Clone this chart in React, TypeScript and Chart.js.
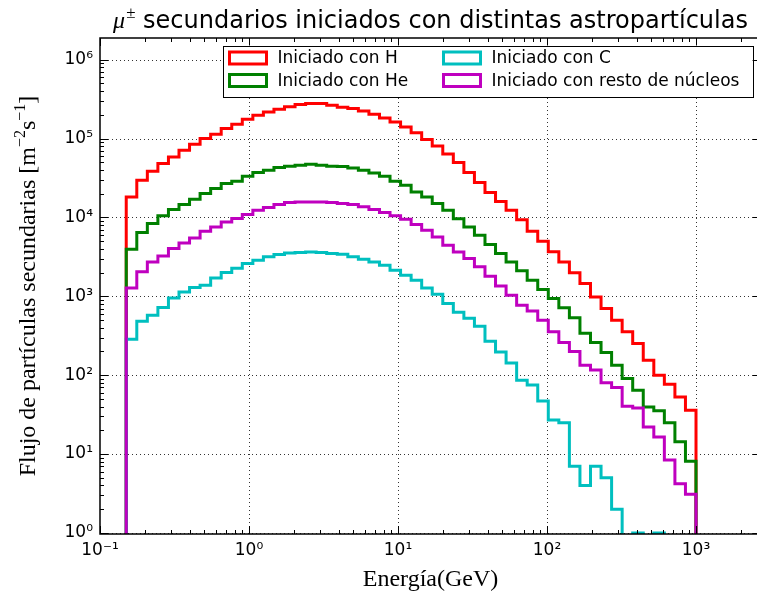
import React, { useEffect, useRef } from 'react';
import { Chart, registerables } from 'chart.js';

Chart.register(...registerables);

// ---------------- data ----------------
const EDGE_FIRST = 0.15; // GeV, first bin edge
const EDGE_LAST = 1000; // GeV, last bin edge
const N_BINS = 54; // log-spaced histogram bins

const FLUX_H = [
  1.82e4, 2.96e4, 3.85e4, 4.82e4, 5.85e4, 7.11e4, 8.47e4, 1.0e5, 1.13e5, 1.34e5,
  1.52e5, 1.76e5, 1.97e5, 2.17e5, 2.35e5, 2.52e5, 2.70e5, 2.78e5, 2.78e5, 2.64e5,
  2.49e5, 2.40e5, 2.24e5, 2.03e5, 1.82e5, 1.62e5, 1.40e5, 1.18e5, 9.71e4, 8.06e4,
  6.36e4, 4.98e4, 3.71e4, 2.77e4, 2.07e4, 1.59e4, 1.23e4, 9.35e3, 6.68e3, 4.99e3,
  3.67e3, 2.73e3, 1.99e3, 1.45e3, 983, 700, 498, 354, 252, 155,
  100, 77, 53, 36,
];
const FLUX_HE = [
  3.95e3, 6.44e3, 8.37e3, 1.05e4, 1.26e4, 1.46e4, 1.70e4, 2.01e4, 2.32e4, 2.69e4,
  2.88e4, 3.33e4, 3.71e4, 3.96e4, 4.29e4, 4.46e4, 4.59e4, 4.72e4, 4.59e4, 4.46e4,
  4.42e4, 4.24e4, 3.96e4, 3.66e4, 3.33e4, 2.88e4, 2.56e4, 2.10e4, 1.82e4, 1.50e4,
  1.23e4, 9.63e3, 7.58e3, 5.95e3, 4.53e3, 3.49e3, 2.73e3, 2.10e3, 1.60e3, 1.22e3,
  938, 717, 536, 341, 260, 194, 134, 91, 64.5, 39.6,
  35.5, 25, 14.3, 8.1,
];
const FLUX_C = [
  286, 483, 576, 721, 954, 1137, 1292, 1382, 1711, 2003,
  2270, 2600, 2870, 3160, 3390, 3550, 3590, 3650, 3590, 3490,
  3420, 3160, 2950, 2730, 2480, 2140, 1850, 1600, 1278, 1063,
  811, 629, 528, 418, 270, 196, 143, 86, 75, 47,
  27, 25, 7, 4, 7, 5, 2, 0, 1, 0,
  1, 0, 0, 0,
];
const FLUX_RESTO = [
  1278, 2040, 2730, 3250, 4030, 4750, 5500, 6680, 7580, 8770,
  9680, 1.09e4, 1.23e4, 1.34e4, 1.46e4, 1.55e4, 1.57e4, 1.57e4, 1.57e4, 1.55e4,
  1.50e4, 1.46e4, 1.36e4, 1.26e4, 1.15e4, 1.05e4, 9490, 8130, 6880, 5660,
  4440, 3650, 3010, 2360, 1800, 1350, 1030, 771, 651, 498,
  354, 260, 200, 134, 116, 80, 70, 40.5, 38.5, 22.1,
  16.5, 8.4, 4.2, 3.1,
];

const SERIES = [FLUX_H, FLUX_HE, FLUX_C, FLUX_RESTO];
const SERIES_LABELS = [
  'Iniciado con H',
  'Iniciado con He',
  'Iniciado con C',
  'Iniciado con resto de núcleos',
];
const SERIES_COLORS = ['#ff0000', '#008000', '#00bfbf', '#bf00bf'];
const SERIES_ORDER = [3, 2, 1, 0]; // later series drawn on top

const TITLE_SYMBOL = 'μ';
const TITLE_SUP = '±';
const TITLE_TEXT = ' secundarios iniciados con distintas astropartículas';
const X_LABEL = 'Energía(GeV)';
const Y_LABEL = 'Flujo de partículas secundarias [m';
const Y_UNIT_PARTS: [string, boolean][] = [
  [Y_LABEL, false],
  ['−2', true],
  ['s', false],
  ['−1', true],
  [']', false],
];

const X_MIN = 0.1;
const X_MAX = 2730;
const Y_MIN = 0.97;
const Y_MAX = 1.88e6;
const X_TICKS = [0.1, 1, 10, 100, 1000];
const X_TICK_LABELS = ['10⁻¹', '10⁰', '10¹', '10²', '10³'];
const Y_TICKS = [1, 10, 100, 1e3, 1e4, 1e5, 1e6];
const Y_TICK_LABELS = ['10⁰', '10¹', '10²', '10³', '10⁴', '10⁵', '10⁶'];

const FLOOR = 1e-3; // empty bins drop below the log axis (clipped)

// ---------------- helpers ----------------
function binEdges(): number[] {
  const a = Math.log10(EDGE_FIRST);
  const b = Math.log10(EDGE_LAST);
  const out: number[] = [];
  for (let i = 0; i <= N_BINS; i++) out.push(Math.pow(10, a + ((b - a) * i) / N_BINS));
  return out;
}

function stepPoints(values: number[], edges: number[]) {
  const f = (v: number) => (v > 0 ? v : FLOOR);
  const pts: { x: number; y: number }[] = [{ x: edges[0], y: FLOOR }];
  values.forEach((v, i) => pts.push({ x: edges[i], y: f(v) }));
  pts.push({ x: edges[values.length], y: f(values[values.length - 1]) });
  pts.push({ x: edges[values.length], y: FLOOR });
  return pts;
}

function minorValues(min: number, max: number): number[] {
  const out: number[] = [];
  for (let e = Math.floor(Math.log10(min)); e <= Math.ceil(Math.log10(max)); e++) {
    const d = Math.pow(10, e);
    for (let k = 2; k <= 9; k++) {
      const v = k * d;
      if (v > min && v < max) out.push(v);
    }
  }
  return out;
}

const decoPlugin = {
  id: 'deco',
  beforeDatasetsDraw(chart: any) {
    const { ctx, chartArea: a, scales } = chart;
    const x = scales.x;
    const y = scales.y;
    ctx.save();
    ctx.strokeStyle = 'rgba(0,0,0,0.8)';
    ctx.lineWidth = 1;
    ctx.setLineDash([1, 3]);
    for (const v of X_TICKS) {
      const px = Math.round(x.getPixelForValue(v)) + 0.5;
      if (px <= a.left + 1 || px >= a.right - 1) continue;
      ctx.beginPath();
      ctx.moveTo(px, a.top);
      ctx.lineTo(px, a.bottom);
      ctx.stroke();
    }
    for (const v of Y_TICKS) {
      const py = Math.round(y.getPixelForValue(v)) + 0.5;
      if (py <= a.top + 1 || py >= a.bottom - 0.5) {
        if (py >= a.bottom + 1 || py <= a.top) continue;
      }
      ctx.beginPath();
      ctx.moveTo(a.left, py);
      ctx.lineTo(a.right, py);
      ctx.stroke();
    }
    ctx.restore();
  },
  afterDatasetsDraw(chart: any) {
    const { ctx, chartArea: a, scales } = chart;
    const x = scales.x;
    const y = scales.y;
    ctx.save();
    // frame
    ctx.strokeStyle = '#000';
    ctx.lineWidth = 1.5;
    ctx.strokeRect(a.left, a.top, a.right - a.left, a.bottom - a.top);
    // ticks (inward, all sides)
    ctx.lineWidth = 1;
    const tickX = (v: number, len: number) => {
      const px = Math.round(x.getPixelForValue(v)) + 0.5;
      ctx.beginPath();
      ctx.moveTo(px, a.bottom);
      ctx.lineTo(px, a.bottom - len);
      ctx.moveTo(px, a.top);
      ctx.lineTo(px, a.top + len);
      ctx.stroke();
    };
    const tickY = (v: number, len: number) => {
      const py = Math.round(y.getPixelForValue(v)) + 0.5;
      ctx.beginPath();
      ctx.moveTo(a.left, py);
      ctx.lineTo(a.left + len, py);
      ctx.moveTo(a.right, py);
      ctx.lineTo(a.right - len, py);
      ctx.stroke();
    };
    X_TICKS.forEach((v) => tickX(v, 8));
    minorValues(X_MIN, X_MAX).forEach((v) => tickX(v, 4));
    Y_TICKS.forEach((v) => tickY(v, 8));
    minorValues(Y_MIN, Y_MAX).forEach((v) => tickY(v, 4));

    // legend
    const lgRight = a.right - 8.5;
    const lgTop = a.top + 7.5;
    const lgW = 530;
    const lgH = 51;
    const lgLeft = lgRight - lgW;
    ctx.fillStyle = '#fff';
    ctx.fillRect(lgLeft, lgTop, lgW, lgH);
    ctx.strokeStyle = '#000';
    ctx.lineWidth = 1;
    ctx.strokeRect(Math.round(lgLeft) + 0.5, Math.round(lgTop) + 0.5, lgW, lgH);
    const colX = [lgLeft + 7, lgLeft + 221];
    const rowY = [lgTop + 12.5, lgTop + 35];
    const slots = [
      [0, 0],
      [0, 1],
      [1, 0],
      [1, 1],
    ];
    ctx.font = '17px "DejaVu Sans"';
    ctx.textBaseline = 'middle';
    ctx.textAlign = 'left';
    SERIES_LABELS.forEach((label, i) => {
      const [c, r] = slots[i];
      const hx = colX[c];
      const hy = rowY[r];
      ctx.strokeStyle = SERIES_COLORS[i];
      ctx.lineWidth = 3;
      ctx.strokeRect(hx, hy - 6, 37, 12);
      ctx.fillStyle = '#000';
      ctx.fillText(label, hx + 48, hy + 1);
    });

    // title
    const cx = (a.left + a.right) / 2;
    const fMu = 'italic 24px "Liberation Serif"';
    const fSup = '17px "Liberation Serif"';
    const fTitle = '24px "DejaVu Sans"';
    ctx.textBaseline = 'alphabetic';
    ctx.font = fMu;
    const wMu = ctx.measureText(TITLE_SYMBOL).width;
    ctx.font = fSup;
    const wSup = ctx.measureText(TITLE_SUP).width;
    ctx.font = fTitle;
    const wT = ctx.measureText(TITLE_TEXT).width;
    let tx = cx - (wMu + wSup + 1 + wT) / 2;
    const tBase = 28;
    ctx.fillStyle = '#000';
    ctx.font = fMu;
    ctx.fillText(TITLE_SYMBOL, tx, tBase);
    tx += wMu + 1;
    ctx.font = fSup;
    ctx.fillText(TITLE_SUP, tx, tBase - 10);
    tx += wSup;
    ctx.font = fTitle;
    ctx.fillText(TITLE_TEXT, tx, tBase);

    // x label
    ctx.font = '24px "Liberation Serif"';
    ctx.textAlign = 'center';
    ctx.fillText(X_LABEL, cx, 586);

    // y label (rotated)
    const cy = (a.top + a.bottom) / 2;
    const fBase = '24px "Liberation Serif"';
    const fS = '16px "Liberation Serif"';
    let total = 0;
    const widths = Y_UNIT_PARTS.map(([t, sup]) => {
      ctx.font = sup ? fS : fBase;
      const w = ctx.measureText(t).width;
      total += w;
      return w;
    });
    ctx.translate(35, cy);
    ctx.rotate(-Math.PI / 2);
    ctx.textAlign = 'left';
    let px = -total / 2;
    Y_UNIT_PARTS.forEach(([t, sup], i) => {
      ctx.font = sup ? fS : fBase;
      ctx.fillText(t, px, sup ? -10 : 0);
      px += widths[i];
    });
    ctx.restore();
  },
};

export default function App() {
  const ref = useRef<HTMLCanvasElement | null>(null);
  useEffect(() => {
    if (!ref.current) return;
    const edges = binEdges();
    const chart = new Chart(ref.current, {
      type: 'line',
      data: {
        datasets: SERIES.map((vals, i) => ({
          label: SERIES_LABELS[i],
          data: stepPoints(vals, edges),
          borderColor: SERIES_COLORS[i],
          backgroundColor: SERIES_COLORS[i],
          borderWidth: 3,
          pointRadius: 0,
          stepped: 'before' as const,
          fill: false,
          order: SERIES_ORDER[i],
          borderJoinStyle: 'miter' as const,
        })),
      },
      options: {
        responsive: false,
        animation: false,
        devicePixelRatio: 1,
        layout: { padding: { top: 38, right: 1, left: 0, bottom: 0 } },
        plugins: {
          legend: { display: false },
          tooltip: { enabled: false },
          title: { display: false },
        },
        scales: {
          x: {
            type: 'logarithmic',
            min: X_MIN,
            max: X_MAX,
            grid: { display: false, drawTicks: false },
            border: { display: false },
            afterBuildTicks: (s: any) => {
              s.ticks = X_TICKS.map((v) => ({ value: v }));
            },
            afterFit: (s: any) => {
              s.height = 60;
            },
            ticks: {
              autoSkip: false,
              maxRotation: 0,
              padding: 6,
              color: '#000',
              font: { family: 'DejaVu Sans', size: 17 },
              callback: (_v: any, i: number) => X_TICK_LABELS[i],
            },
          },
          y: {
            type: 'logarithmic',
            min: Y_MIN,
            max: Y_MAX,
            grid: { display: false, drawTicks: false },
            border: { display: false },
            afterBuildTicks: (s: any) => {
              s.ticks = Y_TICKS.map((v) => ({ value: v }));
            },
            afterFit: (s: any) => {
              s.width = 100;
            },
            ticks: {
              autoSkip: false,
              padding: 7,
              color: '#000',
              font: { family: 'DejaVu Sans', size: 17 },
              callback: (_v: any, i: number) => Y_TICK_LABELS[i],
            },
          },
        },
      },
      plugins: [decoPlugin],
    });
    return () => chart.destroy();
  }, []);
  return (
    <div
      style={{
        position: 'absolute',
        left: 0,
        top: 0,
        width: 757,
        height: 594,
        overflow: 'hidden',
        background: '#fff',
      }}
    >
      <canvas ref={ref} width={762} height={594} style={{ display: 'block' }} />
    </div>
  );
}
